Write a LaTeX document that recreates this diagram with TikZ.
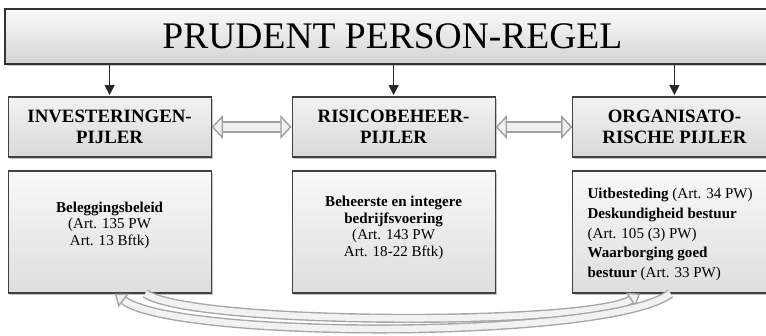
\documentclass[tikz,border=0pt]{standalone}
\usepackage{fontspec}
\setmainfont{Liberation Serif}
\usetikzlibrary{arrows.meta,shadows}

\tikzset{
	titlebox/.style={draw=black!80, line width=1.4pt, top color=gray!4, bottom color=gray!34,
		minimum width=19.375cm, minimum height=1.375cm, inner sep=0pt,
		font=\fontsize{26.7}{30}\selectfont,
		drop shadow={shadow xshift=1.2pt, shadow yshift=-1.5pt, opacity=0.45}},
	pillar/.style={draw=black!75, line width=0.8pt, top color=gray!10, bottom color=gray!30,
		minimum width=5.075cm, minimum height=1.5cm, inner sep=0pt, align=center,
		font=\fontsize{13.4}{15}\selectfont\bfseries,
		drop shadow={shadow xshift=1.2pt, shadow yshift=-1.5pt, opacity=0.45}},
	detail/.style={pillar, minimum height=3.05cm, top color=gray!5, bottom color=gray!26},
	note/.style={inner sep=0pt, align=center, font=\fontsize{10.7}{11.7}\selectfont},
	down/.style={line width=0.9pt, draw=black!85, -{Triangle[length=7pt, width=7pt]}, shorten >=1pt},
	link/.style={draw=gray!75, line width=1pt, double=gray!12, double distance=6pt,
		{Triangle[open, fill=gray!12, length=8pt, width=17pt]}-{Triangle[open, fill=gray!12, length=8pt, width=17pt]}},
	loop/.style={draw=gray!70, line width=1pt, double=gray!10, double distance=4.5pt,
		-{Triangle[open, fill=gray!10, length=8pt, width=12pt]}}
}

\begin{document}
\begin{tikzpicture}
	\clip (0,0) rectangle (19.15,-8.375);
	
	% Title
	\node[titlebox] (title) at (9.81,-0.9125) {PRUDENT PERSON-REGEL};
	
	% The three pillars
	\node[pillar] (inv) at (2.74,-3.175) {INVESTERINGEN-\\PIJLER};
	\node[pillar] (risk) at (9.84,-3.175) {RISICOBEHEER-\\PIJLER};
	\node[pillar] (org) at (16.86,-3.175) {ORGANISATO-\\RISCHE PIJLER};
	
	% Arrows from the title down
	\draw[down] (title.south -| inv.north) -- (inv.north);
	\draw[down] (title.south -| risk.north) -- (risk.north);
	\draw[down] (title.south -| org.north) -- (org.north);
	
	% Links between pillars
	\draw[link] (inv) -- (risk);
	\draw[link] (risk) -- (org);
	
	% Detail boxes
	\node[detail] (invbox) at (2.74,-5.8) {};
	\node[detail] (riskbox) at (9.84,-5.8) {};
	\node[detail] (orgbox) at (16.86,-5.8) {};
	
	\node[note] (invtext) at ([yshift=0.17cm]invbox.center)
		{\textbf{Beleggingsbeleid}\\(Art. 135 PW\\Art. 13 Bftk)};
	\node[note] (risktext) at ([yshift=0.1cm]riskbox.center)
		{\textbf{Beheerste en integere}\\\textbf{bedrijfsvoering}\\(Art. 143 PW\\Art. 18-22 Bftk)};
	\node[note, anchor=west, align=left, font=\fontsize{10.7}{13.9}\selectfont] (orgtext)
		at ([xshift=0.375cm, yshift=-0.06cm]orgbox.west)
		{\textbf{Uitbesteding} (Art. 34 PW)\\\textbf{Deskundigheid bestuur}\\(Art. 105 (3) PW)\\\textbf{Waarborging goed}\\\textbf{bestuur} (Art. 33 PW)};
	
	% Curved arrows underneath
	\draw[loop] ([xshift=0.89cm]invbox.south) .. controls +(1.2,-0.8) and +(-1.2,-0.8) .. ([xshift=-0.86cm]orgbox.south);
	\draw[loop] ([xshift=-0.1cm]orgbox.south) .. controls +(-1.5,-1.15) and +(1.5,-1.15) .. ([xshift=0.13cm]invbox.south);
	
\end{tikzpicture}
\end{document}
